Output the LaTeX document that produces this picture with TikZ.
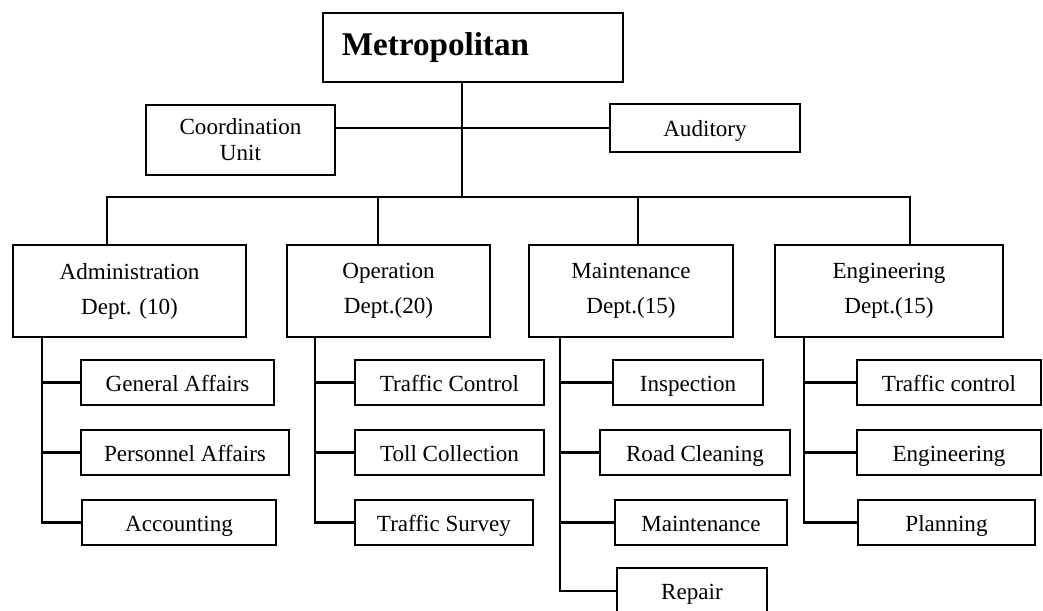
\documentclass[tikz,border=0pt]{standalone}
\usepackage{fontspec}
\setmainfont{Liberation Serif}
\usetikzlibrary{positioning}

\begin{document}
\begin{tikzpicture}[x=0.0175cm, y=-0.0175cm, line width=1.1pt,
    box/.style={draw, line width=1pt, inner sep=2pt, align=center, font=\fontsize{11.5}{17.4}\selectfont},
    unitbox/.style={box, minimum height=0.79cm, text height=2.1ex, text depth=0.25ex}]
  \useasboundingbox (0,0) rectangle (1043,611);

  \node (metro) [draw, line width=1pt, minimum height=1.21cm, text width=4.59cm, inner xsep=0.33cm, align=left, font=\fontsize{16.5}{19}\selectfont\bfseries] at (473,47.5) {Metropolitan};
  \node (coord) [box, minimum width=3.31cm, minimum height=1.225cm, font=\fontsize{11.5}{13}\selectfont] at (240.5,140) {Coordination\\Unit};
  \node (aud) [unitbox, minimum width=3.325cm, minimum height=0.84cm] at (705,128) {Auditory};

  \node (adm) [box, minimum width=4.08cm, minimum height=1.61cm] at (129.5,291) {Administration\\Dept. (10)};
  \node (op) [box, minimum width=3.55cm, minimum height=1.61cm] at (388.5,291) {Operation\\Dept.(20)};
  \node (mnt) [box, minimum width=3.57cm, minimum height=1.61cm] at (631,291) {Maintenance\\Dept.(15)};
  \node (eng) [box, minimum width=3.99cm, minimum height=1.61cm] at (889,291) {Engineering\\Dept.(15)};

  \node (ga) [unitbox, minimum width=3.38cm] at (177.5,382.5) {General Affairs};
  \node (pa) [unitbox, minimum width=3.64cm] at (185,452.5) {Personnel Affairs};
  \node (acc) [unitbox, minimum width=3.395cm] at (179,522.5) {Accounting};

  \node (tc) [unitbox, minimum width=3.31cm] at (449.5,382.5) {Traffic Control};
  \node (toll) [unitbox, minimum width=3.31cm] at (449.5,452.5) {Toll Collection};
  \node (ts) [unitbox, minimum width=3.115cm] at (444,522.5) {Traffic Survey};

  \node (insp) [unitbox, minimum width=2.625cm] at (688,382.5) {Inspection};
  \node (rc) [unitbox, minimum width=3.325cm] at (695,452.5) {Road Cleaning};
  \node (mntc) [unitbox, minimum width=3.01cm] at (701,522.5) {Maintenance};
  \node (rep) [unitbox, minimum width=2.625cm] at (692,591) {Repair};

  \node (tctl) [unitbox, minimum width=3.22cm] at (949,382.5) {Traffic control};
  \node (engr) [unitbox, minimum width=3.22cm] at (949,452.5) {Engineering};
  \node (pln) [unitbox, minimum width=3.0975cm] at (946.5,522.5) {Planning};

  \coordinate (b0) at (462,197);
  \coordinate (b1) at (107,197);
  \coordinate (b2) at (378,197);
  \coordinate (b3) at (638,197);
  \coordinate (b4) at (910,197);
  \coordinate (s1) at (42,0);
  \coordinate (s2) at (315,0);
  \coordinate (s3) at (560,0);
  \coordinate (s4) at (804,0);

  \draw (metro.south -| b0) -- (b0);
  \draw (aud.west) -- (aud.west -| coord.east);
  \draw (b1 |- adm.north) -- (b1) -- (b4) -- (b4 |- eng.north);
  \draw (b2) -- (b2 |- op.north);
  \draw (b3) -- (b3 |- mnt.north);

  \draw (adm.south -| s1) |- (acc.west);
  \draw (op.south -| s2) |- (ts.west);
  \draw (mnt.south -| s3) |- (rep.west);
  \draw (eng.south -| s4) |- (pln.west);
  \foreach \s/\n in {s1/ga, s1/pa, s2/tc, s2/toll, s3/insp, s3/rc, s3/mntc, s4/tctl, s4/engr}
    \draw (\n.west) -- (\n.west -| \s);
\end{tikzpicture}
\end{document}
